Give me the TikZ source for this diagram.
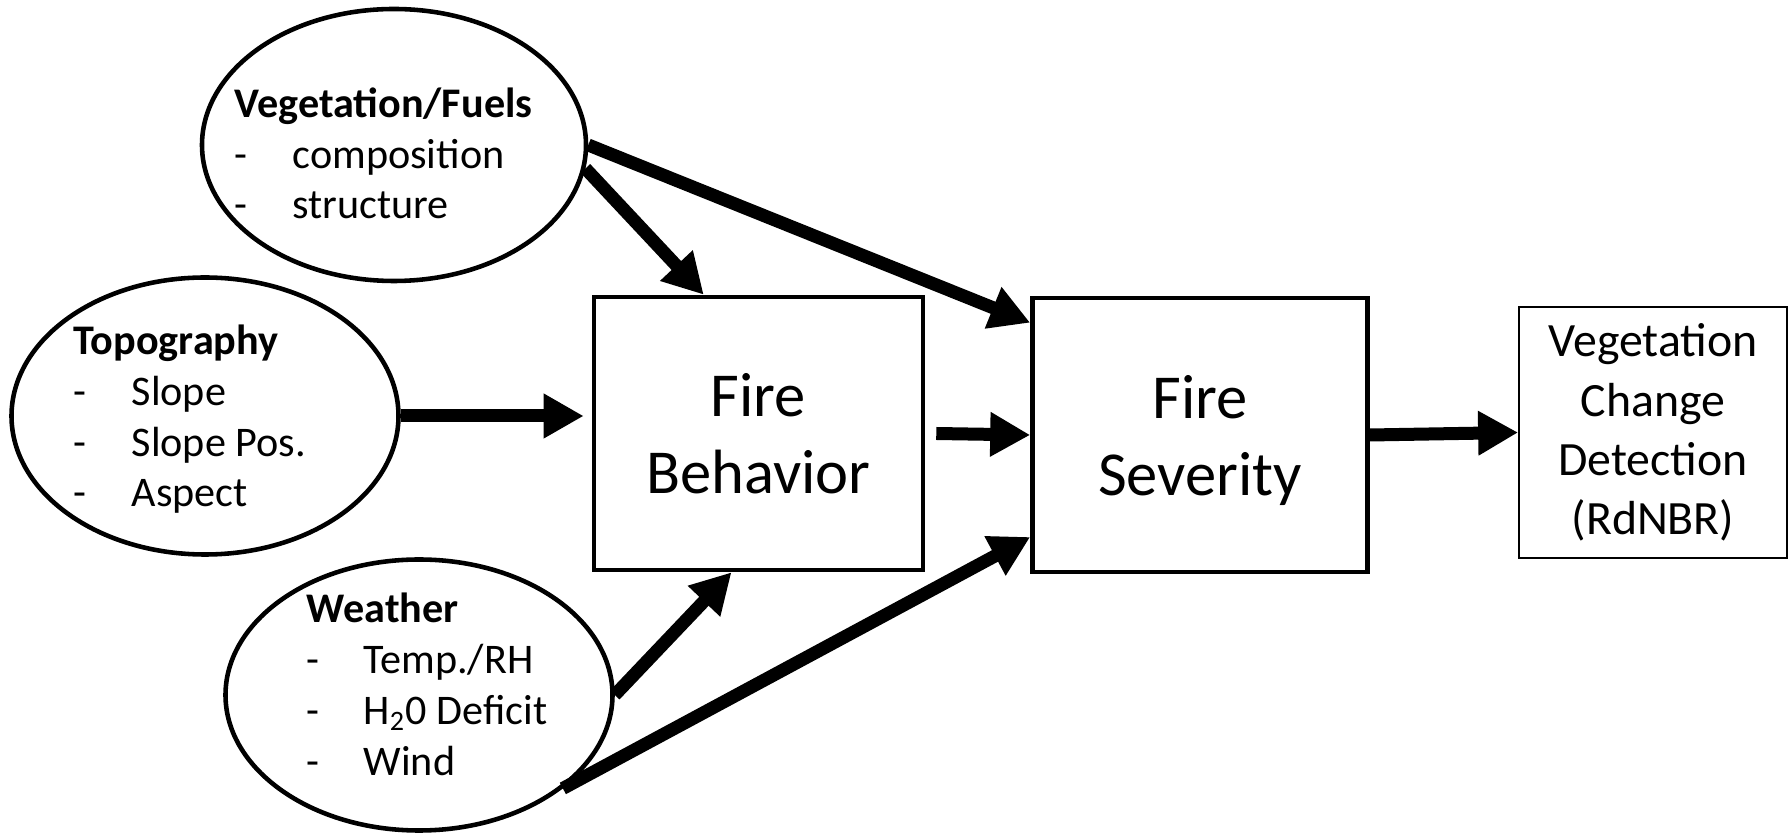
\documentclass[tikz,border=0pt]{standalone}
\usepackage{fontspec}
\setmainfont{Carlito}
\usetikzlibrary{arrows.meta, calc, positioning, shapes.geometric}

\begin{document}
\begin{tikzpicture}[
  factor/.style={ellipse, draw, line width=1.3pt, inner sep=0pt},
  stage/.style={rectangle, draw, line width=1.3pt, inner sep=0pt, align=center, text depth=0pt, font=\fontsize{17.8}{21.9}\selectfont},
  flow/.style={line width=1.3mm, -{Triangle[length=4mm, width=4.2mm]}},
  items/.style={anchor=base west, align=left, inner sep=0pt, font=\fontsize{12}{14.5}\selectfont}
]
\useasboundingbox (0,0) rectangle (17.92,8.34);

% driving factors
\node[factor, minimum width=3.84cm, minimum height=2.72cm] (veg) at (3.94,6.89) {};
\node[factor, minimum width=3.87cm, minimum height=2.77cm] (topo) at (2.05,4.18) {};
\node[factor, minimum width=3.87cm, minimum height=2.71cm] (wx) at (4.19,1.39) {};

% lists (placed at the baseline of their last line)
\node[items] (vegtxt) at (2.34,6.15) {\textbf{Vegetation/Fuels}\\\makebox[5.8mm][l]{-}composition\\\makebox[5.8mm][l]{-}structure};
\node[items] (topotxt) at (0.73,3.27) {\textbf{Topography}\\\makebox[5.8mm][l]{-}Slope\\\makebox[5.8mm][l]{-}Slope Pos.\\\makebox[5.8mm][l]{-}Aspect};
\node[items] (wxtxt) at (3.06,0.59) {\textbf{Weather}\\\makebox[5.7mm][l]{-}Temp./RH\\\makebox[5.7mm][l]{-}H\textsubscript{2}0 Deficit\\\makebox[5.7mm][l]{-}Wind};

% fire and detection
\node[stage, minimum width=3.29cm, minimum height=2.73cm] (fb) at (7.585,4.005) {Fire\\Behavior};
\node[stage, minimum width=3.35cm, minimum height=2.74cm] (fs) at (12.0,3.99) {Fire\\Severity};
\node[draw, line width=0.5pt, minimum width=2.68cm, minimum height=2.51cm, align=center, font=\fontsize{13.6}{16.9}\selectfont] (vcd) at (16.53,4.015) {Vegetation\\Change\\Detection\\(RdNBR)};

\draw[flow] (veg.east) -- ([yshift=-2.7mm]fs.north west);
\draw[flow] (veg.-7) -- ([xshift=11.2mm]fb.north west);
\draw[flow, shorten >=0.8mm] (topo.east) -- (topo.east -| fb.west);
\draw[flow] ([xshift=1.1mm]fb.east) -- (fs.west);
\draw[flow] (wx.east) -- ([xshift=-2.7mm]fb.south);
\draw[flow] (wx.-33) -- ([yshift=-10.2mm]fs.west);
\draw[flow] (fs.east) -- (vcd.west);
\end{tikzpicture}
\end{document}
